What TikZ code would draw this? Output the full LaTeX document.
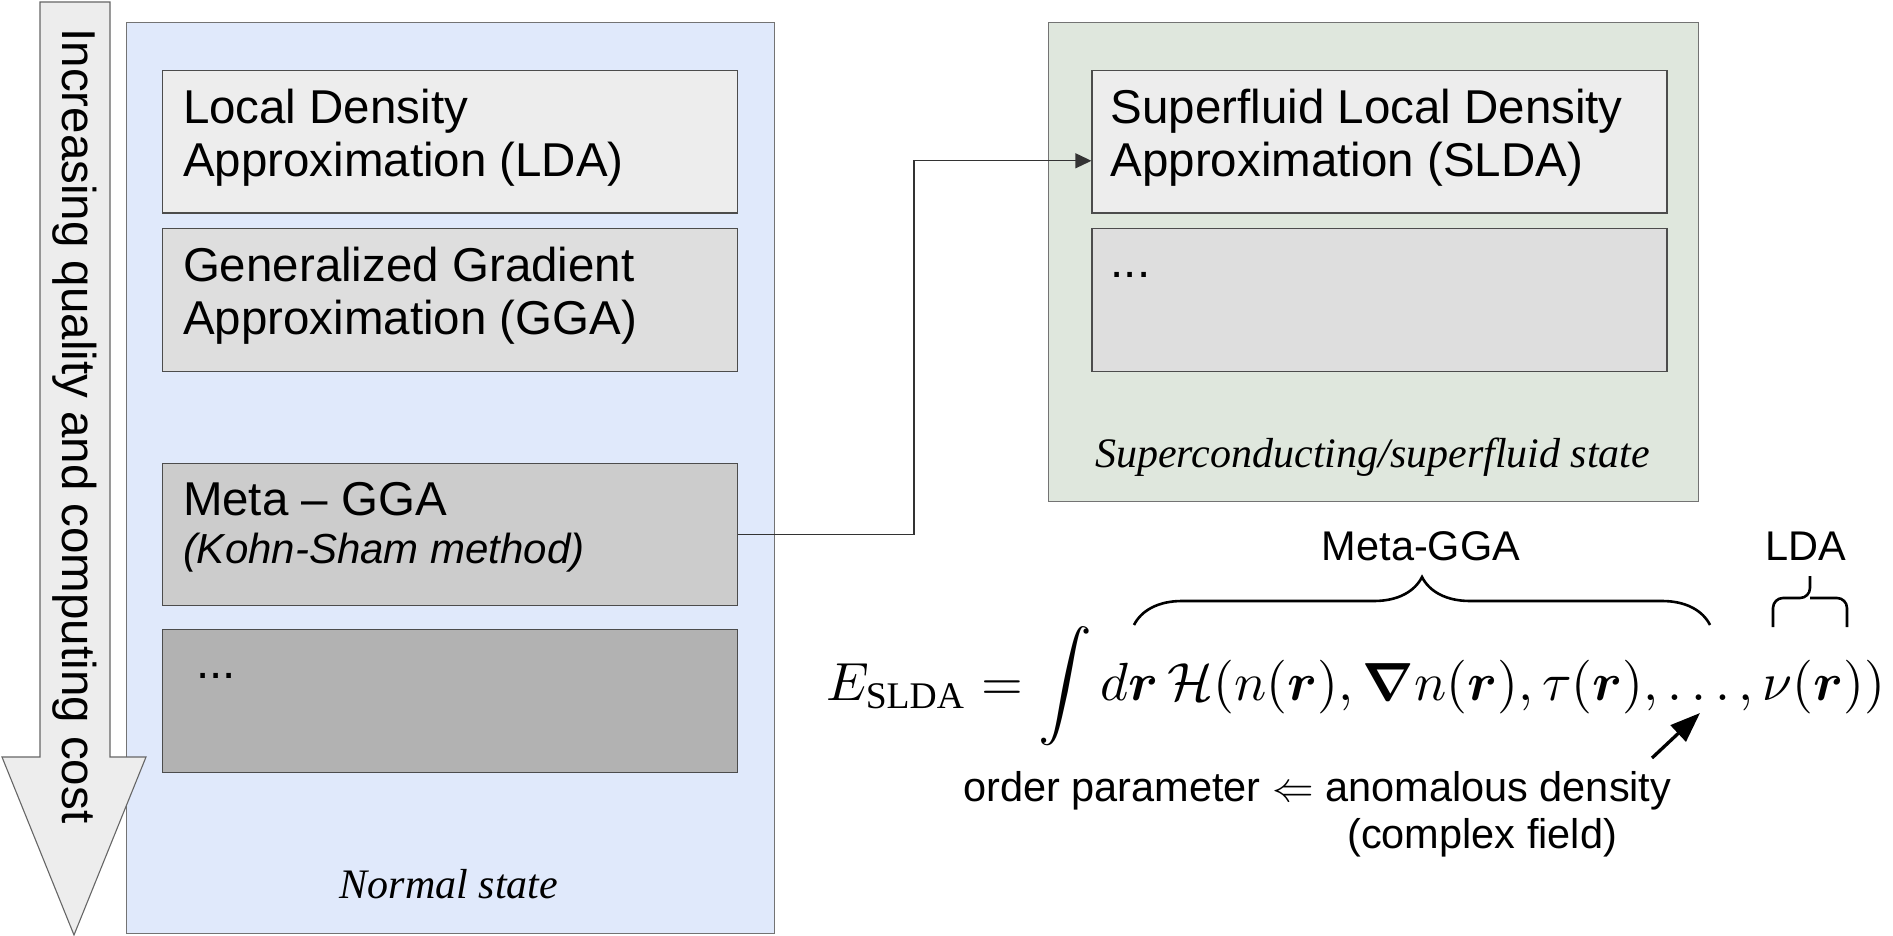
\documentclass[tikz,border=0pt]{standalone}
\usepackage{amsmath}
\usepackage{amssymb}
\usepackage{graphicx}
\usepackage{fontspec}
\setmainfont{Liberation Sans}
\newfontfamily\statefont{Liberation Serif}
\usetikzlibrary{arrows.meta,decorations.pathreplacing}

\definecolor{normalbg}{HTML}{E0E9FB}
\definecolor{superbg}{HTML}{DFE7DD}
\newcommand{\bigmath}[1]{{\fontsize{10}{12}\selectfont\scalebox{5.37}{$\displaystyle #1$}}}

\begin{document}
\begin{tikzpicture}[x=1pt,y=-1pt,
        panel/.style={draw=black!55,line width=1.3pt,anchor=north west,inner sep=0pt},
        box/.style={draw=black!70,line width=1.1pt,anchor=north west,inner sep=0pt,minimum width=575pt,minimum height=142.5pt},
        boxtext/.style={anchor=north west,align=left,inner sep=0pt,font=\fontsize{47.5}{52.7}\selectfont},
        statetext/.style={anchor=base,inner sep=0pt,font=\fontsize{42}{48}\statefont\itshape},
        label/.style={inner sep=0pt,font=\fontsize{41.5}{47}\selectfont},
        conn/.style={draw=black!80,line width=1.2pt,-{Triangle[length=16pt,width=15pt]}}]

    \useasboundingbox (0,0) rectangle (1893,936);

    \node[panel,fill=normalbg,minimum width=648pt,minimum height=911pt] (normal) at (125.6,21.7) {};
    \node[box,fill=black!7] (lda) at (161.8,70) {};
    \node[box,fill=black!13] (gga) at (161.8,228) {};
    \node[box,fill=black!20] (meta) at (161.8,462.7) {};
    \node[box,fill=black!30] (more) at (161.8,629.3) {};
    \node[boxtext] (ldatext) at ([xshift=21pt,yshift=-19.3pt]lda.north west) {Local Density\\Approximation (LDA)};
    \node[boxtext] (ggatext) at ([xshift=21pt,yshift=-19.3pt]gga.north west) {Generalized Gradient\\Approximation (GGA)};
    \node[boxtext] (metatext) at ([xshift=21pt,yshift=-19.3pt]meta.north west) {Meta -- GGA\\[-4.5pt]{\fontsize{42}{47}\selectfont\itshape (Kohn-Sham method)}};
    \node[boxtext,anchor=base west] (moretext) at ([xshift=21pt,yshift=-49pt]more.north west) {\ ...};
    \node[statetext] (normallabel) at (449,898) {Normal state};

    \draw[fill=black!7,draw=black!60,line width=1.1pt]
        (40,2) -- (110,2) -- (110,757) -- (146,757) -- (74,935) -- (2,757) -- (40,757) -- cycle;
    \node[rotate=-90,inner sep=0pt,font=\fontsize{47.5}{52.7}\selectfont] (cost) at (75,426)
        {Increasing quality and computing cost};

    \node[panel,fill=superbg,minimum width=649.5pt,minimum height=479.3pt] (super) at (1048,21.7) {};
    \node[box,fill=black!7] (slda) at (1091.4,70) {};
    \node[box,fill=black!13] (smore) at (1091.4,228) {};
    \node[boxtext] (sldatext) at ([xshift=19pt,yshift=-19.3pt]slda.north west) {Superfluid Local Density\\Approximation (SLDA)};
    \node[boxtext,anchor=base west] (smoretext) at ([xshift=19pt,yshift=-49pt]smore.north west) {...};
    \node[statetext] (superlabel) at (1372.7,467) {Superconducting/superfluid state};

    \coordinate (bend) at (914,0);
    \draw[conn] (meta.east) -- (meta.east -| bend) |- ([yshift=-19pt]slda.west);

    \node[anchor=base west,inner sep=0pt] (eq) at (826,700)
        {\bigmath{E_{\text{\statefont SLDA}} = \int d\boldsymbol{r}\,\mathcal{H}(n(\boldsymbol{r}),\boldsymbol{\nabla} n(\boldsymbol{r}),\tau(\boldsymbol{r}),\ldots,\nu(\boldsymbol{r}))}};

    \draw[line width=2.6pt,decorate,decoration={brace,amplitude=48pt}]
        (1134,625) -- (1710,625);
    \node[label] (metalabel) at (1421,546) {Meta-GGA};
    \draw[line width=2.6pt,rounded corners=10pt]
        (1773,627) -- (1773,598) -- (1810,598) -- (1810,576)
        (1847,627) -- (1847,598) -- (1810,598);
    \node[label] (ldalabel) at (1806,546) {LDA};

    \node[label,anchor=north west,align=left] (order) at (963,771)
        {order parameter {\fontsize{10}{12}\selectfont\scalebox{4.15}{$\Leftarrow$}} anomalous density\\\hspace*{384pt}(complex field)};
    \coordinate (dots) at (1700,713);
    \draw[line width=3.3pt,-{Triangle[length=30pt,width=22pt]}] (1652,758) -- (dots);
\end{tikzpicture}
\end{document}
